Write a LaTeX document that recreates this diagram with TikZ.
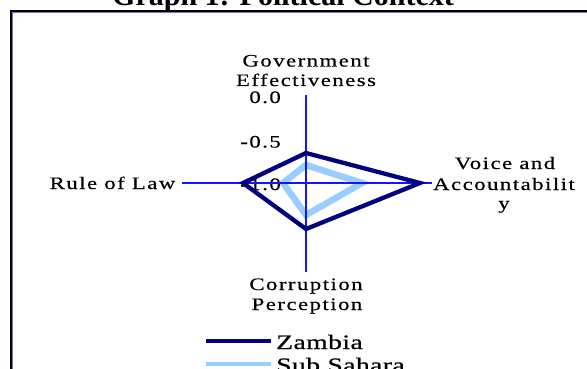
\documentclass[tikz,border=0pt]{standalone}
\usepackage{fontspec}
\setmainfont{Liberation Serif}
\newfontfamily\chartfont{Liberation Serif}[FakeStretch=1.3,LetterSpace=8.5,FakeBold=0.4]
\newfontfamily\legendfont{Liberation Serif}[FakeStretch=1.35,LetterSpace=2,FakeBold=0.8]
\definecolor{zambiablue}{RGB}{0,0,128}
\definecolor{subsahara}{RGB}{153,204,255}
\definecolor{axisblue}{RGB}{20,20,255}
\definecolor{frameblue}{RGB}{110,110,235}
\tikzset{
  axisline/.style={draw=axisblue, line width=1.1pt},
  chartlabel/.style={font=\chartfont\fontsize{17.5}{21}\selectfont, inner sep=0pt, anchor=base},
  ticklabel/.style={chartlabel, anchor=base east},
  legendlabel/.style={font=\legendfont\fontsize{20.5}{24}\selectfont, inner sep=0pt, anchor=base west},
  titletext/.style={font=\bfseries\fontsize{30}{34}\selectfont, inner sep=0pt, anchor=base},
  zambiaseries/.style={draw=zambiablue, line width=4.3pt, miter limit=10, line join=miter},
  subseries/.style={draw=subsahara, line width=6.5pt, line join=miter},
}
\begin{document}
\begin{tikzpicture}[x=1pt,y=-1pt]
\useasboundingbox (0,0) rectangle (587,369);

% heading above the chart frame
\node[titletext] (title) at (283,6) {Graph 1: Political Context};

% chart frame (double border, black outside, blue inside)
\draw[line width=1.6pt, black] (11,369) -- (11,11) -- (587,11);
\draw[line width=1pt, frameblue] (12.8,369) -- (12.8,12.5) -- (587,12.5);

% radar axes
\coordinate (c) at (306,183);
\coordinate (axtop) at (306,95);
\coordinate (axbot) at (306,272);
\coordinate (axleft) at (182,183);
\coordinate (axright) at (432,183);

% category labels
\node[chartlabel] (gov1) at (306,66.5) {Government};
\node[chartlabel] (gov2) at (306,86) {Effectiveness};
\node[chartlabel, anchor=base east] (rol) at (175.5,189) {Rule of Law};
\node[chartlabel] (voice1) at (505,169) {Voice and};
\node[chartlabel] (voice2) at (504,190) {Accountabilit};
\node[chartlabel] (voice3) at (504,209) {y};
\node[chartlabel] (corr1) at (306,290) {Corruption};
\node[chartlabel] (corr2) at (307,310) {Perception};

% value axis ticks
\node[ticklabel] (t0) at (281,103) {0.0};
\node[ticklabel] (t1) at (281,147.5) {-0.5};
\node[ticklabel] (t2) at (281,190) {-1.0};

% series: Sub Sahara
\coordinate (s1) at (306,165);
\coordinate (s2) at (362,183);
\coordinate (s3) at (306,215);
\coordinate (s4) at (283,183);
\draw[subseries] (s1) -- (s2) -- (s3) -- (s4) -- cycle;

\draw[axisline] (axtop) -- (axbot);
\draw[axisline] (axleft) -- (axright);

% series: Zambia
\coordinate (z1) at (306,153);
\coordinate (z2) at (420,183);
\coordinate (z3) at (306,229);
\coordinate (z4) at (243,183);
\draw[zambiaseries] (z1) -- (z2) -- (z3) -- (z4) -- cycle;

% legend
\coordinate (lz1) at (206,341);
\coordinate (lz2) at (271,341);
\coordinate (ls1) at (206,364);
\coordinate (ls2) at (271,364);
\draw[draw=zambiablue, line width=3.5pt] (lz1) -- (lz2);
\draw[draw=subsahara, line width=4pt] (ls1) -- (ls2);
\node[legendlabel] (lgz) at (276,349) {Zambia};
\node[legendlabel] (lgs) at (276,372) {Sub Sahara};
\end{tikzpicture}
\end{document}
